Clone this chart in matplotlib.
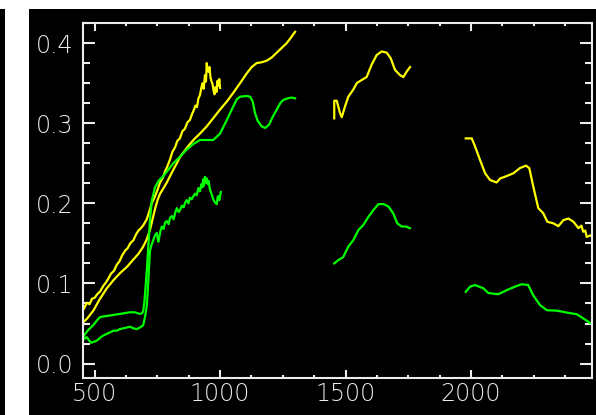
import matplotlib
matplotlib.use("Agg")
import matplotlib.pyplot as plt
from matplotlib.patches import Rectangle
from matplotlib.ticker import MultipleLocator, FormatStrFormatter

# --- data ---

# yellow, noisy curve (first band only)
yel_a_x = [449, 460, 470, 480, 490, 500, 512, 522, 535, 545, 555, 565, 578, 588, 600, 610,
           622, 632, 642, 655, 665, 675, 685, 695, 708, 718, 728, 740, 750, 761, 772, 781,
           790, 801, 810, 821, 830, 840, 850, 860, 870, 880, 888, 895, 902, 908, 914, 920,
           926, 931, 935, 940, 944, 947, 950, 954, 958, 962, 966, 970, 974, 978, 982, 986,
           990, 994, 997, 1000]
yel_a_y = [0.064, 0.070, 0.076, 0.074, 0.081, 0.082, 0.087, 0.090, 0.097, 0.101, 0.106, 0.112,
           0.116, 0.123, 0.128, 0.135, 0.141, 0.144, 0.150, 0.154, 0.161, 0.166, 0.169, 0.173,
           0.180, 0.190, 0.200, 0.208, 0.216, 0.226, 0.232, 0.240, 0.246, 0.255, 0.264, 0.270,
           0.278, 0.281, 0.290, 0.293, 0.301, 0.304, 0.311, 0.316, 0.322, 0.320, 0.331, 0.335,
           0.345, 0.350, 0.343, 0.360, 0.352, 0.375, 0.368, 0.364, 0.370, 0.357, 0.352, 0.349,
           0.341, 0.336, 0.345, 0.339, 0.353, 0.347, 0.355, 0.344]

# yellow, smooth curve, three bands
yel_b1_x = [449, 470, 495, 520, 549, 575, 602, 630, 655, 675, 694, 708, 721, 731, 741, 751,
            761, 775, 788, 801, 814, 828, 841, 860, 880, 900, 920, 947, 975, 1000, 1027, 1053,
            1080, 1106, 1126, 1146, 1166, 1186, 1206, 1226, 1246, 1266, 1283, 1299]
yel_b1_y = [0.050, 0.056, 0.066, 0.080, 0.094, 0.104, 0.113, 0.121, 0.130, 0.137, 0.146, 0.155,
            0.167, 0.180, 0.193, 0.204, 0.212, 0.219, 0.226, 0.234, 0.242, 0.250, 0.258, 0.266,
            0.274, 0.281, 0.287, 0.296, 0.307, 0.317, 0.327, 0.338, 0.350, 0.362, 0.370, 0.375,
            0.376, 0.378, 0.382, 0.388, 0.394, 0.400, 0.407, 0.414]
yel_b2_x = [1455, 1455, 1465, 1478, 1485, 1498, 1511, 1531, 1545, 1565, 1584, 1604, 1624, 1644,
            1664, 1680, 1697, 1717, 1730, 1744, 1757]
yel_b2_y = [0.306, 0.328, 0.328, 0.3125, 0.3075, 0.321, 0.333, 0.342, 0.350, 0.354, 0.3575,
            0.373, 0.385, 0.3895, 0.388, 0.381, 0.3665, 0.360, 0.3575, 0.3645, 0.370]
yel_b3_x = [1979, 2003, 2016, 2036, 2056, 2076, 2102, 2116, 2142, 2169, 2195, 2219, 2232, 2248,
            2268, 2288, 2304, 2328, 2348, 2368, 2388, 2408, 2428, 2440, 2447, 2455, 2461, 2475,
            2488]
yel_b3_y = [0.281, 0.281, 0.271, 0.254, 0.2375, 0.229, 0.226, 0.231, 0.234, 0.2375, 0.244, 0.247,
            0.244, 0.221, 0.194, 0.1875, 0.177, 0.175, 0.1715, 0.179, 0.181, 0.177, 0.169, 0.172,
            0.1645, 0.166, 0.158, 0.160, 0.157]

# green, smooth curve, three bands
grn_a1_x = [449, 460, 475, 495, 510, 522, 540, 562, 580, 602, 620, 641, 660, 681, 690, 694, 699,
            703, 708, 712, 716, 721, 728, 741, 755, 774, 794, 814, 840, 867, 894, 920, 947, 973,
            1000, 1027, 1053, 1067, 1080, 1106, 1120, 1130, 1139, 1150, 1166, 1180, 1195, 1210,
            1226, 1240, 1252, 1270, 1285, 1299]
grn_a1_y = [0.030, 0.036, 0.042, 0.048, 0.054, 0.058, 0.059, 0.060, 0.061, 0.062, 0.063, 0.064,
            0.064, 0.062, 0.063, 0.066, 0.078, 0.095, 0.115, 0.135, 0.155, 0.180, 0.203, 0.220,
            0.228, 0.234, 0.242, 0.250, 0.258, 0.267, 0.274, 0.279, 0.279, 0.279, 0.287, 0.304,
            0.321, 0.330, 0.333, 0.334, 0.333, 0.327, 0.313, 0.303, 0.296, 0.294, 0.298, 0.308,
            0.317, 0.325, 0.329, 0.331, 0.332, 0.331]
grn_a2_x = [1455, 1471, 1491, 1511, 1531, 1551, 1571, 1591, 1611, 1631, 1651, 1671, 1690, 1706,
            1724, 1741, 1757]
grn_a2_y = [0.125, 0.129, 0.133, 0.146, 0.154, 0.1665, 0.173, 0.183, 0.1915, 0.199, 0.199, 0.196,
            0.1875, 0.175, 0.171, 0.171, 0.169]
grn_a3_x = [1979, 1996, 2016, 2049, 2069, 2109, 2142, 2175, 2202, 2228, 2248, 2275, 2302, 2342,
            2381, 2421, 2454, 2488]
grn_a3_y = [0.0895, 0.096, 0.098, 0.094, 0.088, 0.0866, 0.0916, 0.096, 0.099, 0.098, 0.085,
            0.073, 0.0666, 0.066, 0.0637, 0.0616, 0.055, 0.048]

# green, noisy curve (first band only)
grn_b_x = [449, 459, 469, 478, 487, 495, 505, 515, 525, 535, 548, 562, 575, 588, 601, 615, 628,
           641, 655, 668, 681, 694, 701, 708, 712, 715, 718, 721, 727, 734, 741, 748, 754, 758,
           763, 768, 775, 781, 788, 795, 801, 808, 815, 821, 828, 835, 841, 848, 855, 861, 867,
           874, 880, 887, 894, 900, 907, 914, 920, 926, 930, 933, 936, 940, 944, 947, 951, 954,
           960, 966, 973, 980, 987, 990, 993, 997, 1003]
grn_b_y = [0.028, 0.031, 0.033, 0.029, 0.026, 0.027, 0.028, 0.030, 0.033, 0.035, 0.037, 0.039,
           0.041, 0.041, 0.043, 0.044, 0.045, 0.046, 0.044, 0.043, 0.045, 0.048, 0.058, 0.072,
           0.090, 0.108, 0.125, 0.141, 0.148, 0.154, 0.160, 0.163, 0.152, 0.158, 0.166, 0.171,
           0.168, 0.176, 0.178, 0.174, 0.182, 0.184, 0.180, 0.188, 0.194, 0.189, 0.192, 0.197,
           0.195, 0.201, 0.204, 0.200, 0.207, 0.205, 0.209, 0.212, 0.210, 0.219, 0.215, 0.224,
           0.220, 0.230, 0.222, 0.233, 0.226, 0.231, 0.224, 0.228, 0.217, 0.212, 0.205, 0.201,
           0.199, 0.207, 0.209, 0.204, 0.214]

YELLOW = "#ffff00"
GREEN = "#00ff00"
FG = "#ececec"
W, H = 596, 415

fig = plt.figure(figsize=(W / 100, H / 100), dpi=100, facecolor="white")
# black panels behind the plot
fig.patches.append(Rectangle((29 / W, 0), 1 - 29 / W, 406 / H, transform=fig.transFigure,
                             facecolor="black", edgecolor="none", zorder=-10))
fig.patches.append(Rectangle((0, 0), 5 / W, 406 / H, transform=fig.transFigure,
                             facecolor="black", edgecolor="none", zorder=-10))

ax = fig.add_axes([83 / W, (H - 378) / H, (592 - 83) / W, (378 - 23) / H])
ax.set_facecolor("black")

for xs, ys in [(yel_a_x, yel_a_y), (yel_b1_x, yel_b1_y), (yel_b2_x, yel_b2_y), (yel_b3_x, yel_b3_y)]:
    ax.plot(xs, ys, color=YELLOW, linewidth=1.6)
for xs, ys in [(grn_a1_x, grn_a1_y), (grn_a2_x, grn_a2_y), (grn_a3_x, grn_a3_y), (grn_b_x, grn_b_y)]:
    ax.plot(xs, ys, color=GREEN, linewidth=1.6)

ax.set_xlim(454, 2482)
ax.set_ylim(-0.018, 0.425)

ax.xaxis.set_major_locator(MultipleLocator(500))
ax.xaxis.set_minor_locator(MultipleLocator(125))
ax.yaxis.set_major_locator(MultipleLocator(0.1))
ax.yaxis.set_minor_locator(MultipleLocator(0.025))
ax.yaxis.set_major_formatter(FormatStrFormatter("%.1f"))

for s in ax.spines.values():
    s.set_color(FG)
    s.set_linewidth(1.5)

ax.tick_params(axis="both", which="both", direction="in", top=True, right=True,
               color=FG, labelcolor=FG, width=1.5, labelsize=17)
ax.tick_params(axis="x", which="major", length=6, pad=3)
ax.tick_params(axis="x", which="minor", length=2.5)
ax.tick_params(axis="y", which="major", length=8.5, pad=7)
ax.tick_params(axis="y", which="minor", length=5)
for lab in ax.get_xticklabels() + ax.get_yticklabels():
    lab.set_fontweight("light")

plt.savefig("out.png", dpi=100, facecolor="white")
